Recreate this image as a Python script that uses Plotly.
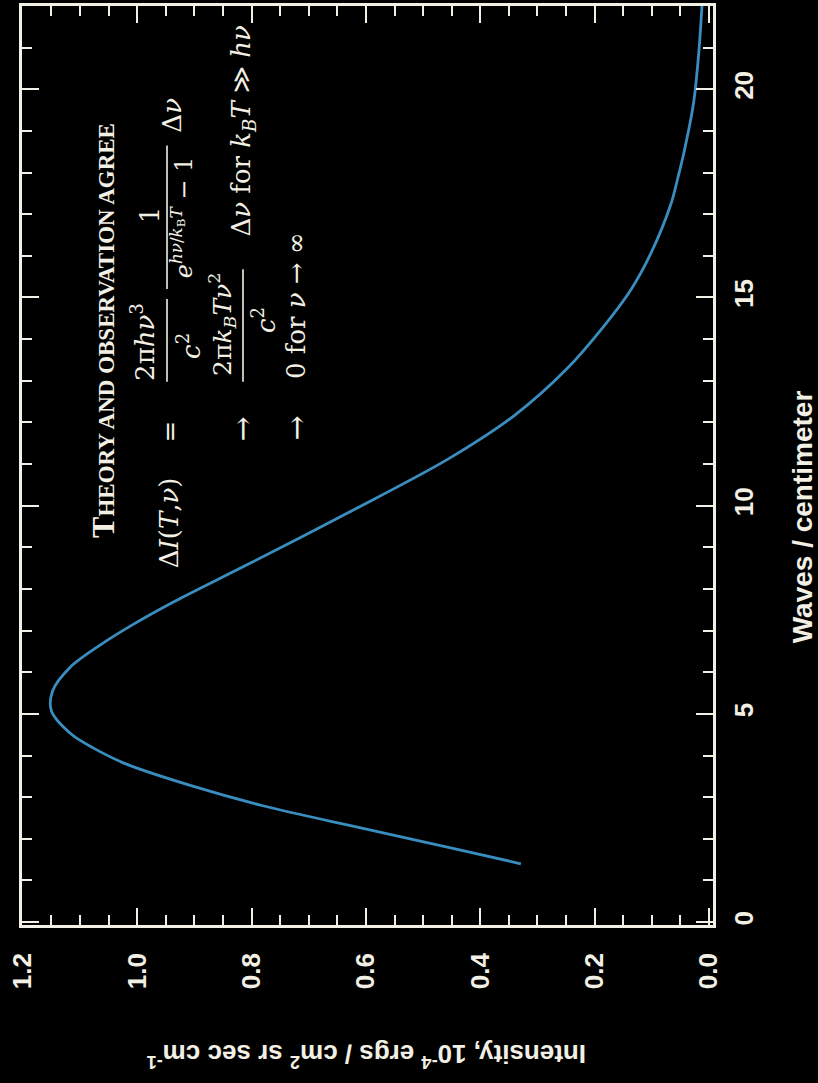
import plotly.graph_objects as go

# ---- data ----
waves = [1.40, 1.76, 2.28, 2.80, 3.24, 3.80, 4.19, 4.51, 5.07, 5.55, 6.11, 6.67,
         7.15, 7.70, 8.58, 9.86, 11.13, 12.17, 13.28, 14.24, 15.20, 16.08, 17.27,
         17.90, 18.47, 19.67, 20.86, 22.06]
intensity = [0.329, 0.444, 0.615, 0.782, 0.897, 1.020, 1.078, 1.115, 1.150, 1.148, 1.118, 1.063,
             1.007, 0.935, 0.808, 0.627, 0.455, 0.340, 0.249, 0.188, 0.136, 0.101, 0.066,
             0.054, 0.044, 0.027, 0.018, 0.012]

intensity_ticks = [0.0, 0.2, 0.4, 0.6, 0.8, 1.0, 1.2]
intensity_labels = ["0.0", "0.2", "0.4", "0.6", "0.8", "1.0", "1.2"]
wave_ticks = [0, 5, 10, 15, 20]
wave_labels = ["0", "5", "10", "15", "20"]

W, H = 818, 1083
L, R, T, B = 22, 713, 3, 925  # plot-area pixel box

FG = "#f2f0e4"
CURVE = "#3a8dbf"
SERIF = "DejaVu Serif"
TSERIF = "Liberation Serif"
SANS = "Liberation Sans"

fig = go.Figure()
fig.add_trace(go.Scatter(
    x=intensity, y=waves, mode="lines",
    line=dict(color=CURVE, width=2.8, shape="spline", smoothing=0.9),
    hoverinfo="skip", showlegend=False))

axis_common = dict(
    showgrid=False, zeroline=False, showline=True, linecolor=FG, linewidth=2.5,
    mirror="ticks", ticks="inside", tickcolor=FG, tickwidth=2,
    tickfont=dict(family=SANS, size=26, color=FG, weight="bold"),
    tickangle=-90,
)

fig.update_layout(
    width=W, height=H,
    margin=dict(l=L, r=W - R, t=T, b=H - B, pad=0),
    paper_bgcolor="black", plot_bgcolor="black",
    xaxis=dict(
        range=[1.2015, -0.007], tickvals=intensity_ticks, ticktext=intensity_labels,
        ticklen=17, ticklabelstandoff=15,
        minor=dict(dtick=0.05, tick0=0, ticks="inside", ticklen=10, tickcolor=FG, tickwidth=2),
        **axis_common),
    yaxis=dict(
        range=[-0.07, 22.0], side="right", tickvals=wave_ticks, ticktext=wave_labels,
        ticklen=17, ticklabelstandoff=6,
        minor=dict(dtick=1, tick0=0, ticks="inside", ticklen=10, tickcolor=FG, tickwidth=2),
        **axis_common),
)


def px(X, Y):
    return (X - L) / (R - L), (B - Y) / (B - T)


def ann(text, X, Y, size, family=SERIF, angle=-90, weight="normal"):
    x, y = px(X, Y)
    fig.add_annotation(text=text, x=x, y=y, xref="paper", yref="paper",
                       showarrow=False, textangle=angle, xanchor="center", yanchor="middle",
                       font=dict(family=family, size=size, color=FG, weight=weight))


def bar(X, Y0, Y1):
    x0, y0 = px(X, Y0)
    _, y1 = px(X, Y1)
    fig.add_shape(type="line", xref="paper", yref="paper", x0=x0, x1=x0, y0=y0, y1=y1,
                  line=dict(color=FG, width=1.6))


FS = 26

# heading
ann("<span style='font-size:32px'>T</span>HEORY AND OBSERVATION AGREE", 103, 329, 23,
    family=TSERIF, weight="bold")

# row 1
ann("Δ<i>I</i>(<i>T</i>,<i>ν</i>)", 169, 522, FS)
ann("=", 170, 430, FS)
ann("2π<i>hν</i><sup>3</sup>", 143, 340, FS)
bar(167, 380, 297)
ann("<i>c</i><sup>2</sup>", 189, 344, FS)
ann("1", 150, 213, FS)
bar(167, 287, 143)
ann("<i>e</i><sup><i>hν</i>/<i>k</i><sub>B</sub><i>T</i></sup> − 1", 182, 215, FS - 2)
ann("Δ<i>ν</i>", 172, 113, FS)

# row 2
ann("→", 243, 427, 30)
ann("2π<i>k</i><sub><i>B</i></sub><i>Tν</i><sup>2</sup>", 222, 323, FS - 1)
bar(243, 380, 267)
ann("<i>c</i><sup>2</sup>", 264, 318, FS)
ann("Δ<i>ν</i> for <i>k</i><sub><i>B</i></sub><i>T</i> ≫ <i>hν</i>", 243, 128, FS)

# row 3
ann("→", 297, 427, 30)
ann("0 for <i>ν</i> → ∞", 296, 304, FS)

# axis titles
ann("Waves / centimeter", 802, 516, 28, family=SANS, weight="bold")
ann("Intensity, 10<sup>-4</sup> ergs / cm<sup>2</sup> sr sec cm<sup>-1</sup>", 367, 1056, 26,
    family=SANS, angle=180, weight="bold")

fig.write_html("out.html")
